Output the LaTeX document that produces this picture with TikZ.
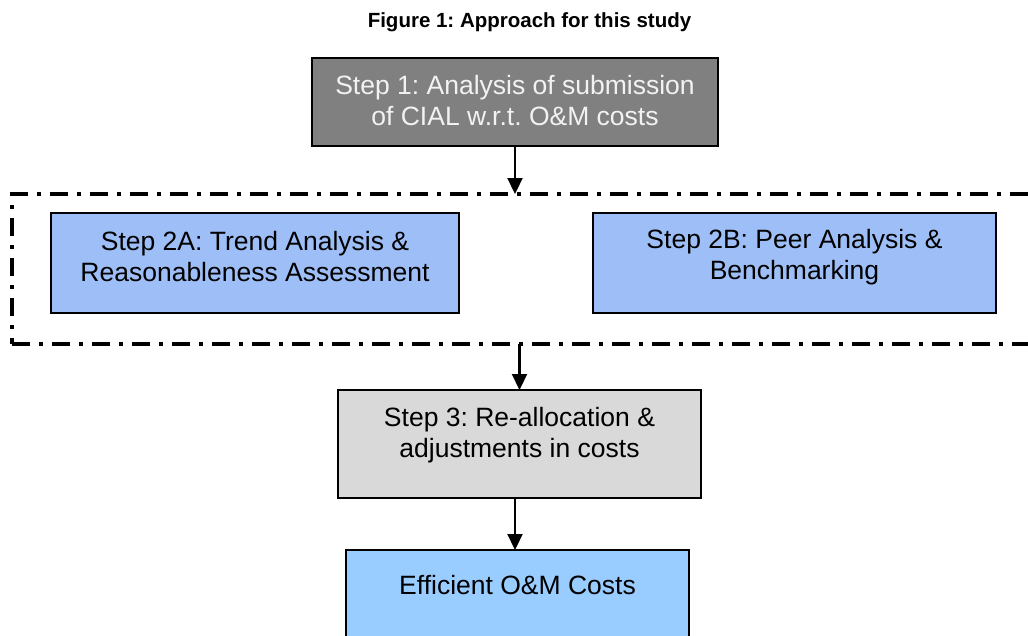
\documentclass[tikz,border=0pt]{standalone}
\usepackage{fontspec}
\setmainfont{Liberation Sans}
\usetikzlibrary{arrows.meta}
\definecolor{stepone}{RGB}{128,128,128}
\definecolor{steponetext}{RGB}{242,242,242}
\definecolor{steptwo}{RGB}{157,190,246}
\definecolor{stepthree}{RGB}{217,217,217}
\definecolor{effblue}{RGB}{153,204,255}
\frenchspacing
\begin{document}
\begin{tikzpicture}[x=1pt,y=-1pt,
  box/.style={draw=black,line width=2.2pt,inner sep=0pt,outer sep=0pt},
  txt/.style={font=\fontsize{26.5}{31}\selectfont,align=center,inner sep=0pt},
  arr/.style={line width=2.2pt,-{Triangle[length=16pt,width=15pt]}},
  grpframe/.style={draw=black,line width=3.2pt,dash pattern=on 18pt off 9pt on 4pt off 9pt,inner sep=0pt,outer sep=0pt}]
\clip (0,0) rectangle (1028,635);
\fill[white] (0,0) rectangle (1028,635);
\node[font=\bfseries\fontsize{20.5}{24}\selectfont,inner sep=0pt] (title) at (529.5,22) {Figure 1: Approach for this study};
% step 1
\node[box,fill=stepone,minimum width=406pt,minimum height=88pt] (s1) at (515,102) {};
\node[txt,text=steponetext] (s1t) at (515,100.5) {Step 1: Analysis of submission\\of CIAL w.r.t. O\&M costs};
% group frame
\node[grpframe,minimum width=1033pt,minimum height=150pt] (grp) at (528.5,269) {};
% step 2A / 2B
\node[box,fill=steptwo,minimum width=408pt,minimum height=100pt] (s2a) at (255,263) {};
\node[txt] (s2at) at (255,257) {Step 2A: Trend Analysis \&\\Reasonableness Assessment};
\node[box,fill=steptwo,minimum width=403pt,minimum height=100pt] (s2b) at (794.5,263) {};
\node[txt] (s2bt) at (794.5,257) {Step 2B: Peer Analysis \&\\Benchmarking};
% step 3
\node[box,fill=stepthree,minimum width=363pt,minimum height=108pt] (s3) at (519.5,444) {};
\node[txt] (s3t) at (519.5,435) {Step 3: Re-allocation \&\\adjustments in costs};
% efficient
\node[box,fill=effblue,minimum width=343pt,minimum height=120pt] (eff) at (517.5,610) {};
\node[txt] (efft) at (517.5,585) {Efficient O\&M Costs};
% connectors
\draw[arr] (s1.south) -- (s1.south |- grp.north);
\draw[arr] (s3.north |- grp.south) -- (s3.north);
\draw[arr] ([xshift=-4.5pt]s3.south) -- ([xshift=-4.5pt]s3.south |- eff.north);
\end{tikzpicture}
\end{document}
